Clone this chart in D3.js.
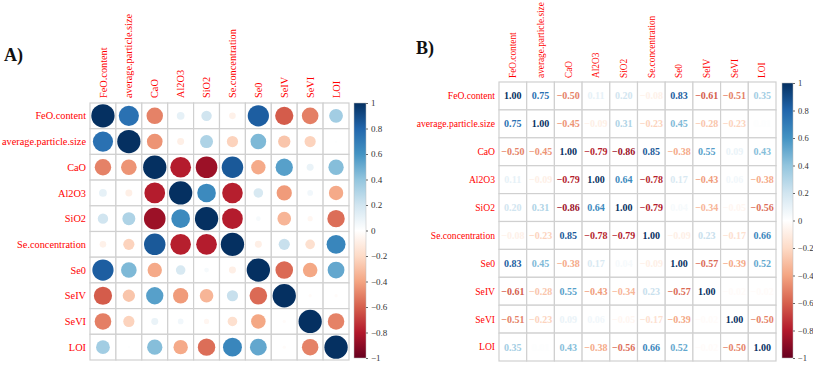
<!DOCTYPE html>
<html>
<head>
<meta charset="utf-8">
<script src="https://cdn.jsdelivr.net/npm/d3@7"></script>
<style>
  body { margin: 0; background: #fff; }
</style>
</head>
<body>
<div id="chart"></div>
<script>
var serif = "'Liberation Serif', 'Times New Roman', 'DejaVu Serif', serif";

var vars = ["FeO.content", "average.particle.size", "CaO", "Al2O3", "SiO2",
            "Se.concentration", "Se0", "SeIV", "SeVI", "LOI"];

// correlation rows, same order as vars
var feo     = [ 1.00,  0.75, -0.50,  0.11,  0.20, -0.08,  0.83, -0.61, -0.51,  0.35];
var aps     = [ 0.75,  1.00, -0.45, -0.09,  0.31, -0.23,  0.45, -0.28, -0.23,  0.01];
var cao     = [-0.50, -0.45,  1.00, -0.79, -0.86,  0.85, -0.38,  0.55,  0.09,  0.43];
var al2o3   = [ 0.11, -0.09, -0.79,  1.00,  0.64, -0.78,  0.17, -0.43,  0.06, -0.38];
var sio2    = [ 0.20,  0.31, -0.86,  0.64,  1.00, -0.79,  0.04, -0.34, -0.05, -0.56];
var seconc  = [-0.08, -0.23,  0.85, -0.78, -0.79,  1.00, -0.09,  0.23, -0.17,  0.66];
var se0     = [ 0.83,  0.45, -0.38,  0.17,  0.04, -0.09,  1.00, -0.57, -0.39,  0.52];
var seiv    = [-0.61, -0.28,  0.55, -0.43, -0.34,  0.23, -0.57,  1.00, -0.02, -0.02];
var sevi    = [-0.51, -0.23,  0.09,  0.06, -0.05, -0.17, -0.39, -0.02,  1.00, -0.50];
var loi     = [ 0.35,  0.01,  0.43, -0.38, -0.56,  0.66,  0.52, -0.02, -0.50,  1.00];

var corr = [feo, aps, cao, al2o3, sio2, seconc, se0, seiv, sevi, loi];

var legendTicks = [1, 0.8, 0.6, 0.4, 0.2, 0, -0.2, -0.4, -0.6, -0.8, -1];

// corrplot's RdBu palette
var palette = ["#67001F", "#B2182B", "#D6604D", "#F4A582", "#FDDBC7", "#FFFFFF",
               "#D1E5F0", "#92C5DE", "#4393C3", "#2166AC", "#053061"];

var color = d3.scaleLinear()
  .domain(d3.range(11).map(function(i) { return -1 + i * 0.2; }))
  .range(palette);

var cells = [];
corr.forEach(function(row, i) {
  row.forEach(function(v, j) { cells.push({row: i, col: j, value: v}); });
});

var svg = d3.select("#chart").append("svg")
  .attr("width", 813)
  .attr("height", 365)
  .attr("font-family", serif);

var defs = svg.append("defs");
var grad = defs.append("linearGradient")
  .attr("id", "cbar")
  .attr("x1", "0").attr("y1", "1").attr("x2", "0").attr("y2", "0");
palette.forEach(function(c, i) {
  grad.append("stop").attr("offset", (i / 10 * 100) + "%").attr("stop-color", c);
});

function drawPanel(opt) {
  var g = svg.append("g");

  var x = d3.scaleBand().domain(d3.range(vars.length))
    .range([opt.left, opt.right]);
  var y = d3.scaleBand().domain(d3.range(vars.length))
    .range([opt.top, opt.bottom]);

  // white cells with grey grid
  g.selectAll(".cell")
    .data(cells)
    .enter().append("rect")
      .attr("x", function(d) { return x(d.col); })
      .attr("y", function(d) { return y(d.row); })
      .attr("width", x.bandwidth())
      .attr("height", y.bandwidth())
      .attr("fill", "#fff")
      .attr("stroke", "#d0d0d0")
      .attr("stroke-width", 1.2);

  if (opt.type == "circle") {
    g.selectAll(".dot")
      .data(cells)
      .enter().append("circle")
        .attr("cx", function(d) { return x(d.col) + x.bandwidth() / 2; })
        .attr("cy", function(d) { return y(d.row) + y.bandwidth() / 2; })
        .attr("r", function(d) { return 0.45 * Math.sqrt(Math.abs(d.value)) * x.bandwidth(); })
        .attr("fill", function(d) { return color(d.value); });
  } else {
    var fmt = d3.format(".2f");
    g.selectAll(".num")
      .data(cells)
      .enter().append("text")
        .attr("x", function(d) { return x(d.col) + x.bandwidth() / 2; })
        .attr("y", function(d) { return y(d.row) + y.bandwidth() / 2; })
        .attr("dy", "0.35em")
        .attr("text-anchor", "middle")
        .attr("font-family", serif)
        .attr("font-size", "10px")
        .attr("font-weight", "bold")
        .attr("fill", function(d) { return color(d.value); })
        .text(function(d) { return fmt(d.value); });
  }

  // row labels
  g.selectAll(".rlab")
    .data(vars)
    .enter().append("text")
      .attr("x", opt.left - 4)
      .attr("y", function(d, i) { return y(i) + y.bandwidth() / 2; })
      .attr("dy", "0.35em")
      .attr("text-anchor", "end")
      .attr("font-family", serif)
      .attr("font-size", opt.labelSize)
      .attr("fill", "red")
      .text(function(d) { return d; });

  // column labels
  g.selectAll(".clab")
    .data(vars)
    .enter().append("text")
      .attr("transform", function(d, i) {
        return "translate(" + (x(i) + x.bandwidth() / 2) + "," + (opt.top - opt.colGap) + ") rotate(-90)";
      })
      .attr("dy", "0.35em")
      .attr("text-anchor", "start")
      .attr("font-family", serif)
      .attr("font-size", opt.colSize)
      .attr("fill", "red")
      .text(function(d) { return d; });

  // colour bar
  var cb = opt.bar;
  g.append("rect")
    .attr("x", cb.x)
    .attr("y", cb.top)
    .attr("width", cb.w)
    .attr("height", cb.bottom - cb.top)
    .attr("fill", "url(#cbar)")
    .attr("stroke", "#bbb")
    .attr("stroke-width", 0.5);

  var yc = d3.scaleLinear().domain([-1, 1]).range([cb.bottom, cb.top]);
  var axis = g.append("g")
    .attr("transform", "translate(" + (cb.x + cb.w) + ",0)")
    .call(d3.axisRight(yc).tickValues(legendTicks).tickSize(2).tickPadding(3)
          .tickFormat(d3.format("")));
  axis.attr("font-family", serif);
  axis.select(".domain").remove();
  axis.selectAll("line").attr("stroke", "#666");
  axis.selectAll("text")
    .attr("font-size", cb.fontSize)
    .attr("fill", "#333");

  svg.append("text")
    .attr("x", opt.tag[0])
    .attr("y", opt.tag[1])
    .attr("font-family", serif)
    .attr("font-size", "18px")
    .attr("font-weight", "bold")
    .attr("fill", "#111")
    .text(opt.title);
}

drawPanel({
  type: "circle", title: "A)", tag: [4, 61],
  left: 90, right: 349, top: 103, bottom: 360,
  labelSize: "10.3px", colSize: "10.3px", colGap: 5,
  bar: {x: 354, w: 12, top: 103, bottom: 358, fontSize: "9px"}
});

drawPanel({
  type: "number", title: "B)", tag: [416, 54],
  left: 499, right: 776, top: 82, bottom: 361,
  labelSize: "9.6px", colSize: "9.3px", colGap: 4,
  bar: {x: 782, w: 11, top: 83, bottom: 358, fontSize: "8.5px"}
});
</script>
</body>
</html>
